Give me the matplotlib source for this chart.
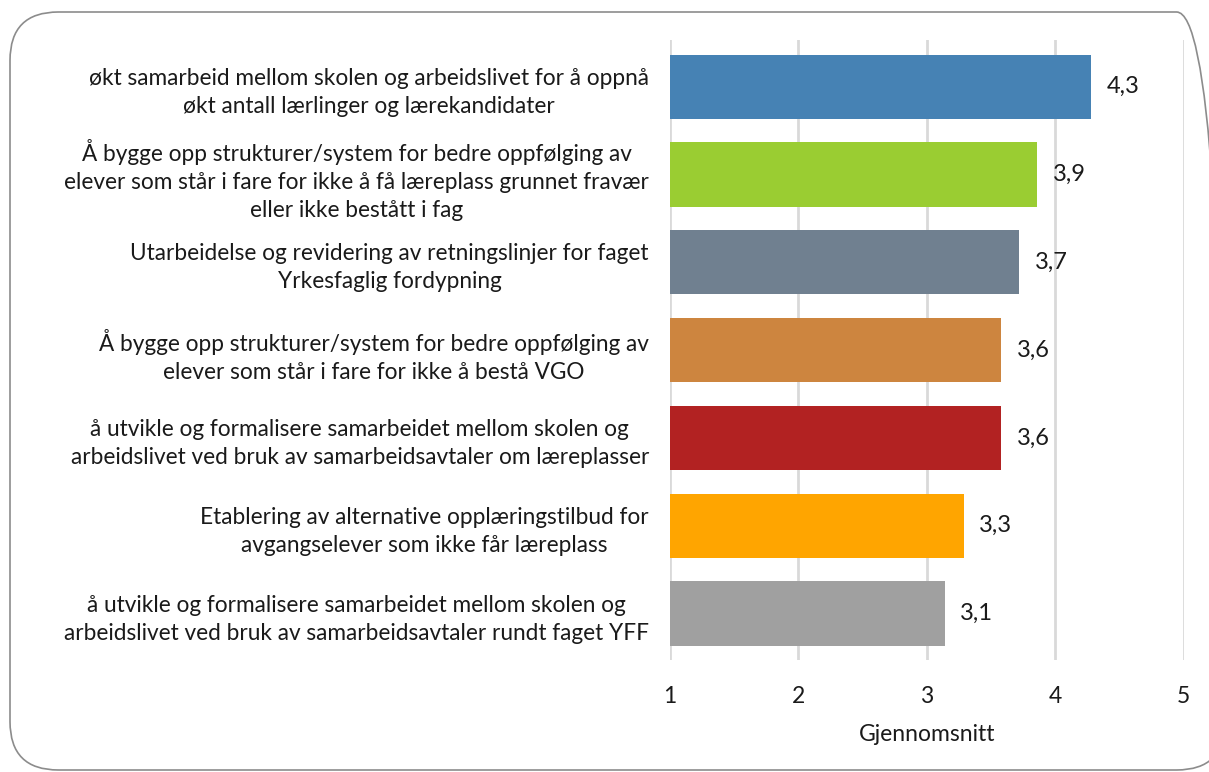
import matplotlib.pyplot as plt
from matplotlib.patches import FancyBboxPatch

categories = [
    "økt samarbeid mellom skolen og arbeidslivet for å oppnå\nøkt antall lærlinger og lærekandidater",
    "Å bygge opp strukturer/system for bedre oppfølging av\nelever som står i fare for ikke å få læreplass grunnet fravær\neller ikke bestått i fag",
    "Utarbeidelse og revidering av retningslinjer for faget\nYrkesfaglig fordypning",
    "Å bygge opp strukturer/system for bedre oppfølging av\nelever som står i fare for ikke å bestå VGO",
    "å utvikle og formalisere samarbeidet mellom skolen og\narbeidslivet ved bruk av samarbeidsavtaler om læreplasser",
    "Etablering av alternative opplæringstilbud for\navgangselever som ikke får læreplass",
    "å utvikle og formalisere samarbeidet mellom skolen og\narbeidslivet ved bruk av samarbeidsavtaler rundt faget YFF",
]
values = [4.28, 3.86, 3.72, 3.58, 3.58, 3.29, 3.14]
value_labels = ["4,3", "3,9", "3,7", "3,6", "3,6", "3,3", "3,1"]
colors = ["#4682B4", "#9ACD32", "#708090", "#CD853F", "#B22222", "#FFA500", "#A0A0A0"]
xticks = [1, 2, 3, 4, 5]

plt.rcParams["font.family"] = ["Lato", "DejaVu Sans"]

fig = plt.figure(figsize=(12.09, 7.72), dpi=100)
ax = fig.add_axes([0.554, 0.145, 0.425, 0.803])

# rounded outer frame
frame = FancyBboxPatch((10 / 1209, 2 / 772), 1215 / 1209, 758 / 772,
                       boxstyle="round,pad=0,rounding_size=0.04",
                       transform=fig.transFigure, facecolor="none",
                       edgecolor="#8c8c8c", linewidth=1.2, zorder=0,
                       mutation_aspect=1209 / 772)
fig.patches.append(frame)

ypos = list(range(len(categories)))
ax.barh(ypos, [v - 1 for v in values], left=1, height=0.73,
        color=colors, zorder=3)
for y, v, lab in zip(ypos, values, value_labels):
    ax.text(v + 0.12, y, lab, va="center", ha="left", fontsize=17, color="#1a1a1a")

ax.set_xlim(1, 5)
ax.set_ylim(len(categories) - 0.47, -0.53)
ax.set_xticks(xticks)
ax.set_xticklabels([str(t) for t in xticks], fontsize=16.5)
ax.set_yticks(ypos)
ax.set_yticklabels(categories, fontsize=16.3)
for lab in ax.get_yticklabels():
    lab.set_multialignment("center")
    lab.set_linespacing(1.42)
ax.tick_params(axis="both", length=0, colors="#1a1a1a")
ax.tick_params(axis="x", pad=19)
ax.tick_params(axis="y", pad=15)
ax.grid(axis="x", color="#d9d9d9", linewidth=2, zorder=0)
for s in ax.spines.values():
    s.set_visible(False)
ax.set_xlabel("Gjennomsnitt", fontsize=16.5, labelpad=12, color="#1a1a1a")

fig.savefig("out.png", dpi=100)
